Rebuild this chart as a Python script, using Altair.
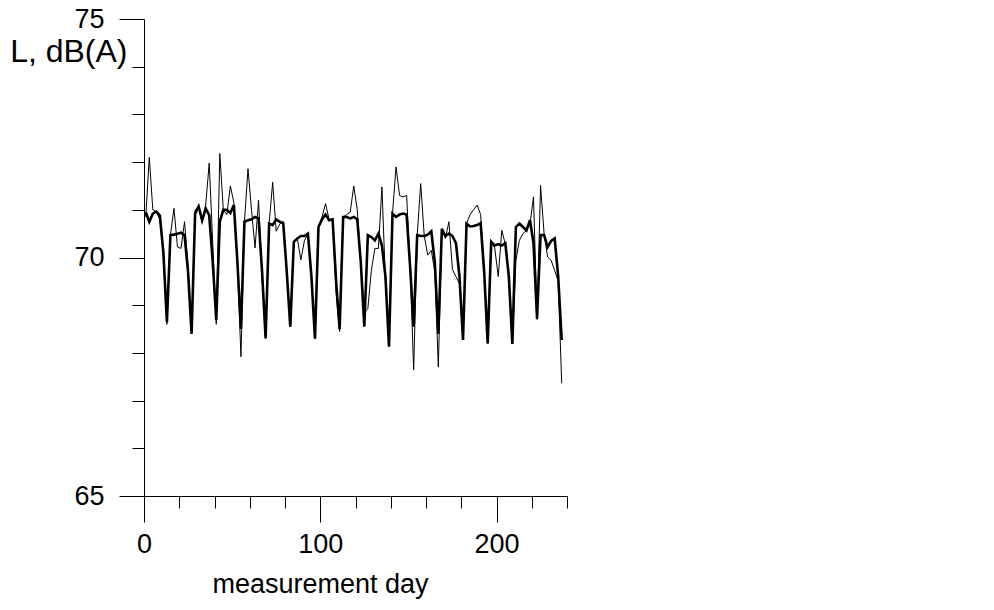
import altair as alt
import pandas as pd

# thick series (smoothed level), one value every second measurement day
thick = [
    70.95, 70.75, 70.92, 70.96, 70.88, 70.10, 68.65,
    70.47, 70.48, 70.50, 70.52, 70.47, 69.70, 68.40,
    70.92, 71.07, 70.78, 71.03, 70.89, 69.90, 68.69,
    70.75, 71.00, 71.00, 70.93, 71.10, 69.90, 68.50,
    70.75, 70.78, 70.80, 70.85, 70.82, 69.70, 68.31,
    70.71, 70.68, 70.80, 70.75, 70.72, 69.70, 68.55,
    70.33, 70.40, 70.45, 70.45, 70.50, 69.60, 68.30,
    70.64, 70.80, 70.90, 70.78, 70.80, 69.50, 68.50,
    70.85, 70.85, 70.82, 70.85, 70.80, 69.90, 68.55,
    70.47, 70.43, 70.36, 70.50, 70.25, 69.60, 68.13,
    70.92, 70.85, 70.90, 70.92, 70.90, 69.80, 68.55,
    70.47, 70.45, 70.45, 70.48, 70.55, 69.90, 68.40,
    70.60, 70.45, 70.50, 70.45, 70.30, 69.60, 68.27,
    70.71, 70.65, 70.66, 70.68, 70.72, 69.70, 68.20,
    70.33, 70.25, 70.28, 70.25, 70.30, 69.60, 68.19,
    70.64, 70.71, 70.64, 70.57, 70.78, 70.30, 68.72,
    70.47, 70.47, 70.22, 70.35, 70.40, 69.60, 68.27,
]
# thin series (measured level)
thin = [
    70.85, 72.10, 71.00, 70.96, 70.80, 70.10, 68.60,
    70.47, 71.03, 70.22, 70.19, 70.75, 69.80, 68.40,
    71.00, 71.07, 70.73, 71.10, 71.98, 70.30, 68.60,
    72.18, 71.00, 70.90, 71.50, 71.15, 69.90, 67.92,
    70.75, 71.86, 71.00, 70.20, 71.20, 69.60, 68.30,
    70.71, 71.58, 70.55, 70.70, 70.75, 69.70, 68.55,
    70.33, 70.40, 69.95, 70.35, 70.50, 69.60, 68.30,
    70.64, 70.85, 71.13, 70.80, 70.80, 69.25, 68.45,
    70.85, 70.90, 70.95, 71.50, 71.00, 69.90, 68.85,
    68.93, 69.73, 70.19, 70.19, 71.48, 69.50, 68.20,
    70.92, 71.90, 71.30, 71.27, 71.30, 69.80, 67.64,
    70.47, 71.55, 70.45, 70.05, 70.15, 69.70, 67.70,
    70.60, 70.40, 70.75, 69.75, 69.60, 69.45, 68.27,
    70.71, 70.90, 71.00, 71.10, 70.90, 69.70, 68.20,
    70.33, 70.20, 69.60, 70.57, 70.28, 69.60, 68.19,
    69.94, 70.36, 70.50, 70.57, 70.70, 71.27, 68.70,
    71.51, 70.50, 70.01, 69.94, 69.73, 69.50, 67.36,
]
days = list(range(1, 2 * len(thick), 2))

x_major_ticks = [0, 100, 200]
x_minor_ticks = [20, 40, 60, 80, 120, 140, 160, 180, 220, 240]
y_major_ticks = [65, 70, 75]
y_minor_ticks = [66, 67, 68, 69, 71, 72, 73, 74]

FONT = "Liberation Sans"
LABEL_FS = 27
XTITLE_FS = 27
YTITLE_FS = 32

df = pd.DataFrame({"day": days, "thin": thin, "thick": thick})

xscale = alt.Scale(domain=[0, 240], nice=False, zero=False)
yscale = alt.Scale(domain=[65, 75], nice=False, zero=False)

common = dict(grid=False, domainColor="black", tickColor="black",
              labelColor="black", titleColor="black", tickWidth=1, domainWidth=1)

thin_layer = alt.Chart(df).mark_line(color="black", strokeWidth=1).encode(
    x=alt.X("day:Q", scale=xscale, axis=alt.Axis(
        orient="bottom", values=x_major_ticks, tickSize=26, labelPadding=9,
        labelFont=FONT, labelFontSize=LABEL_FS, labelFlush=False, labelOverlap=False,
        title="measurement day", titleFont=FONT, titleFontSize=XTITLE_FS,
        titleFontWeight="normal", titleX=176, titleY=96, titleAlign="center",
        titleBaseline="alphabetic", format="d", **common)),
    y=alt.Y("thin:Q", scale=yscale, axis=alt.Axis(
        orient="left", values=y_major_ticks, tickSize=25, labelPadding=15,
        labelFont=FONT, labelFontSize=LABEL_FS, labelFlush=False, labelOverlap=False,
        title="L, dB(A)", titleFont=FONT, titleFontSize=YTITLE_FS,
        titleFontWeight="normal", titleAngle=0, titleAlign="right",
        titleBaseline="alphabetic", titleX=-17, titleY=42, format="d", **common)),
)

thick_layer = alt.Chart(df).mark_line(color="black", strokeWidth=2.6).encode(
    x=alt.X("day:Q", scale=xscale, axis=alt.Axis(
        orient="bottom", values=x_minor_ticks, tickSize=12, labels=False,
        domain=False, title=None, grid=False, tickColor="black", tickWidth=1)),
    y=alt.Y("thick:Q", scale=yscale, axis=alt.Axis(
        orient="left", values=y_minor_ticks, tickSize=12, labels=False,
        domain=False, title=None, grid=False, tickColor="black", tickWidth=1)),
)

chart = (
    alt.layer(thin_layer, thick_layer)
    .resolve_axis(x="independent", y="independent")
    .properties(
        width=423, height=477,
        padding={"left": 136, "top": 11, "right": 40, "bottom": 108},
        autosize=alt.AutoSizeParams(type="none"),
        background="white",
    )
    .configure_view(stroke=None)
)

chart.save("out.html", embed_options={"renderer": "svg", "actions": False})
